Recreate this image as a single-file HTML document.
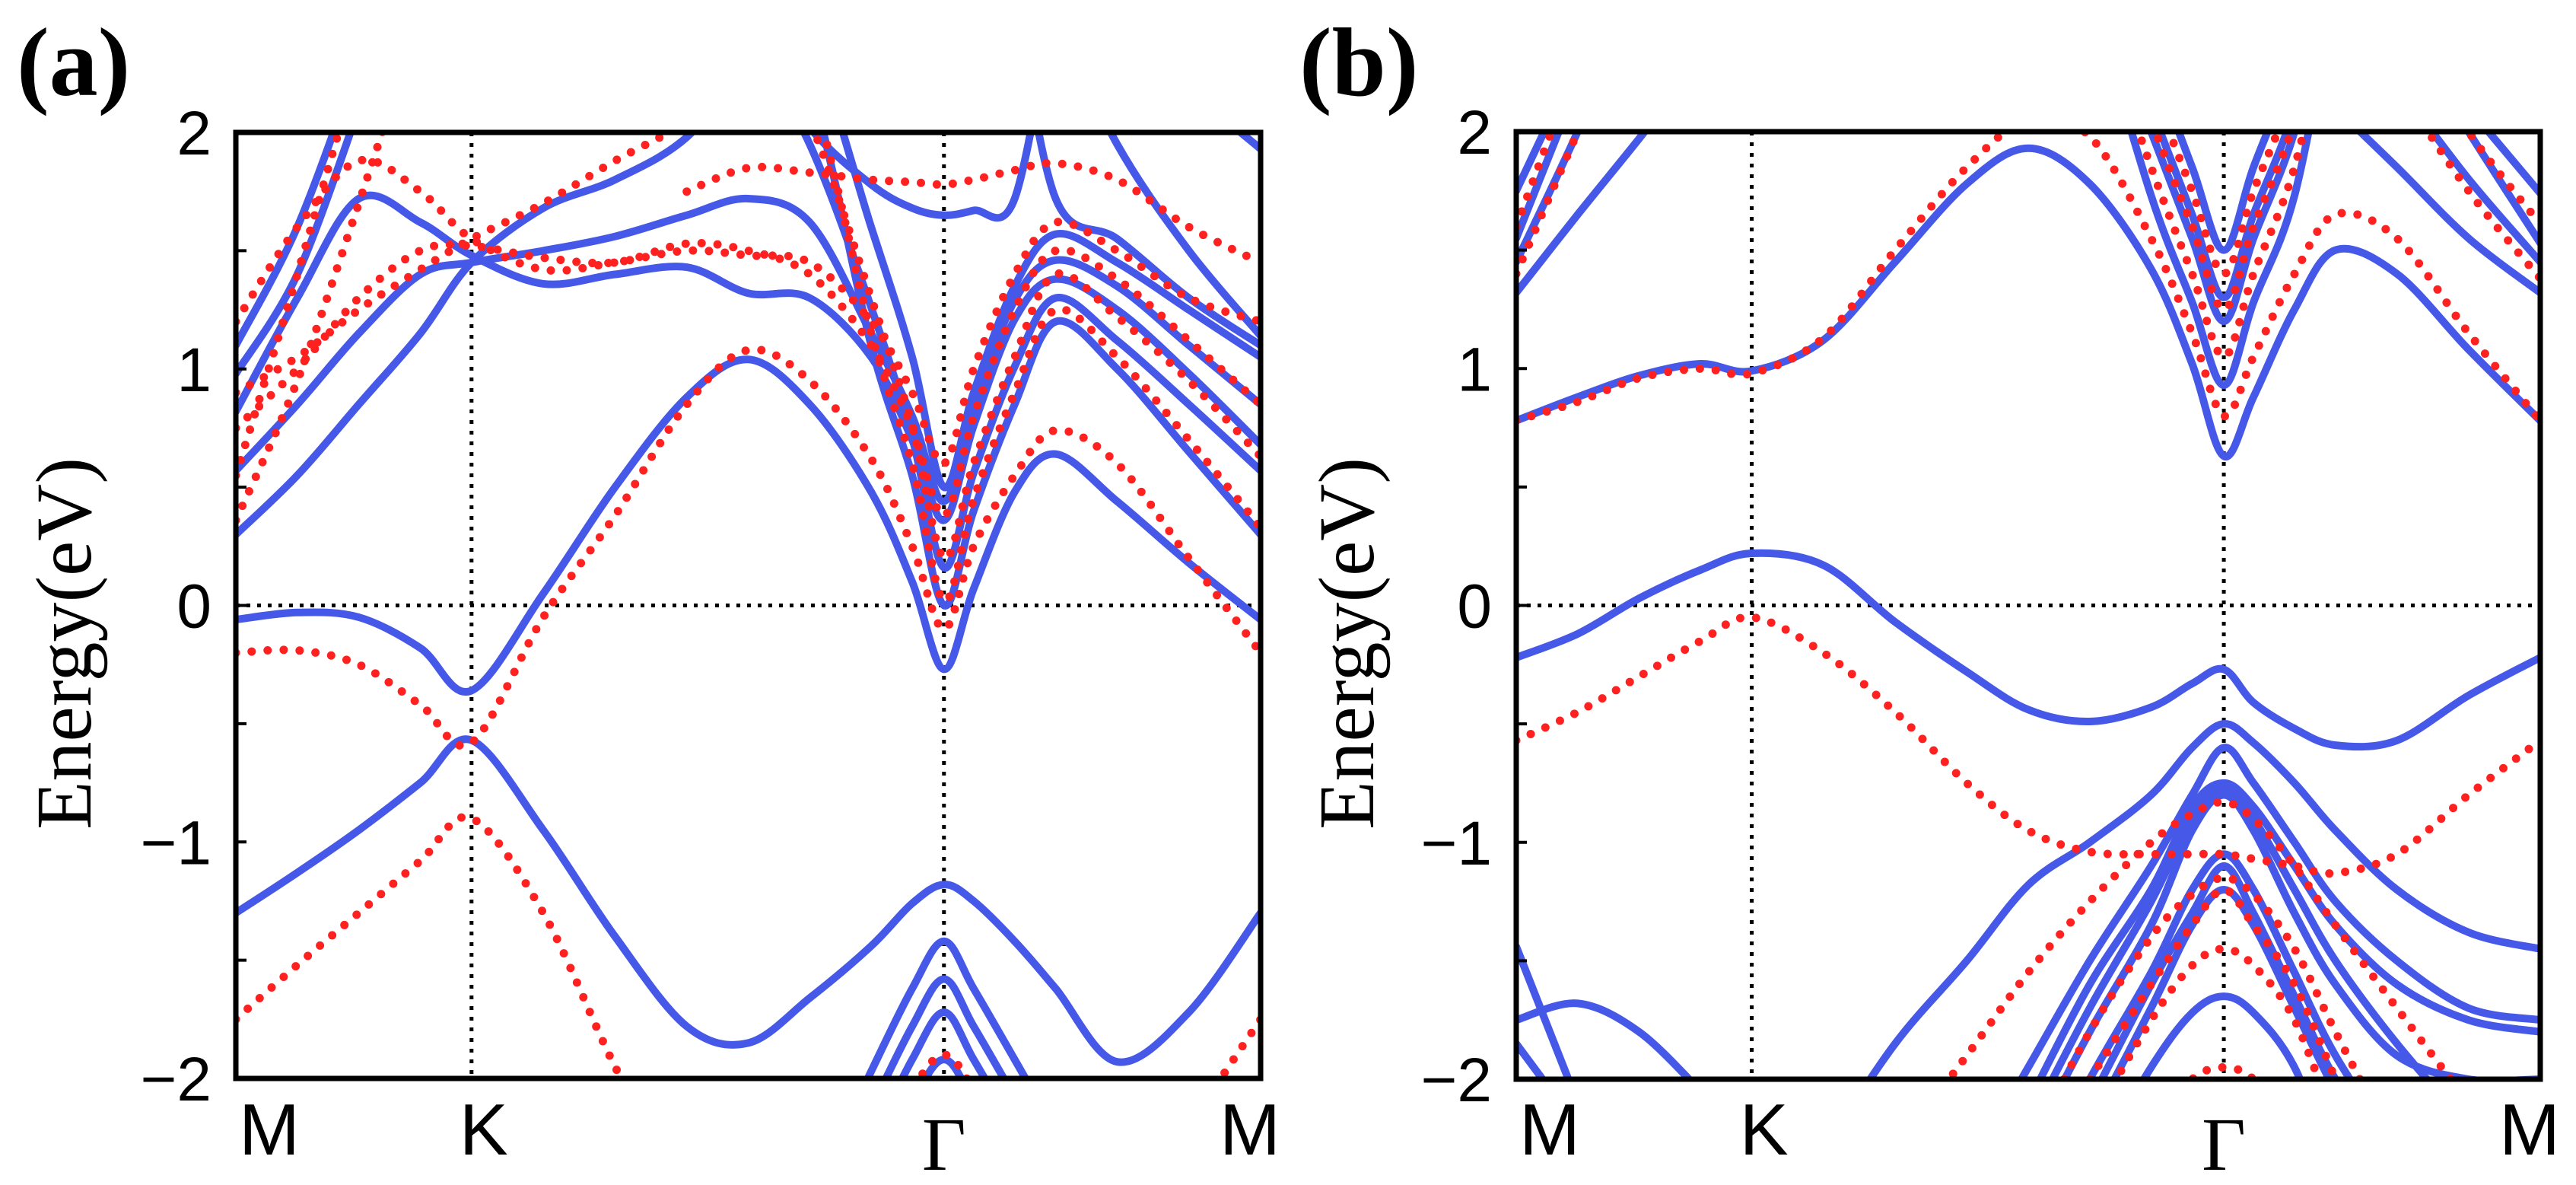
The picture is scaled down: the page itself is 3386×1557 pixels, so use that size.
<!DOCTYPE html>
<html><head><meta charset="utf-8"><title>Band structures</title>
<style>
html,body{margin:0;padding:0;background:#fff;}
svg{display:block;}
text{font-family:"Liberation Sans",sans-serif;}
.serif{font-family:"Liberation Serif",serif;}
</style></head>
<body>
<svg id="fig" width="3386" height="1557" viewBox="0 0 3386 1557" xmlns="http://www.w3.org/2000/svg">
<rect x="0" y="0" width="3386" height="1557" fill="#fff"/>
<defs>
<clipPath id="clipA"><rect x="310" y="174" width="1347" height="1243"/></clipPath>
<clipPath id="clipB"><rect x="1993" y="173" width="1346" height="1245"/></clipPath>
</defs>
<g id="panelA"></g>
<g id="panelB"></g>
</svg>
<script>
// shared k-path grid (M=0, K=0.23, Gamma=0.691, M=1)
const kGrid=[0,0.06,0.12,0.18,0.23,0.3,0.37,0.44,0.5,0.56,0.62,0.66,0.691,0.72,0.76,0.8,0.86,0.93,1];
const kLabels=["M","K","Γ","M"];
const kLabelPos=[0,0.23,0.691,1];
const yTicks=[2,1,0,-1,-2];
const yTickLabels=["2","1","0","\u22121","\u22122"];
const n=null;
// Panel (a) blue bands
const aB1=[-1.3,-1.13,-0.95,-0.75,-0.57,-0.95,-1.4,-1.78,-1.85,-1.66,-1.44,-1.26,-1.18,-1.25,-1.42,-1.62,-1.93,-1.72,-1.3];
const aB2=[-0.06,-0.03,-0.05,-0.18,-0.36,0.05,0.5,0.88,1.04,0.85,0.48,0.1,-0.27,0.07,0.48,0.64,0.44,0.18,-0.06];
const aB3=[0.3,0.55,0.85,1.15,1.45,1.68,1.8,1.98,2.3,n,n,n,n,n,n,n,n,n,n];
const aB4=[0.57,0.85,1.15,1.4,1.45,1.5,1.56,1.65,1.72,1.62,1.15,0.8,0.44,0.84,1.29,1.46,1.35,1.1,0.85];
const aB5=[0.82,1.3,1.72,1.62,1.48,1.36,1.4,1.43,1.32,1.3,1.05,0.7,0.36,0.76,1.21,1.38,1.25,0.98,0.68];
const aB6=[n,n,n,n,n,n,n,n,2.6,2.2,1.1,0.55,0.0,0.4,0.85,1.2,1.0,0.65,0.3];
const aB7=[n,n,n,n,n,n,n,n,2.4,1.95,1.26,0.71,0.16,0.56,1.01,1.3,1.12,0.85,0.57];
const aB8=[n,n,n,n,n,n,n,n,2.7,2.4,1.6,1.05,0.5,0.9,1.35,1.57,1.45,1.25,1.05];
const aB9=[n,n,n,n,n,n,n,n,2.4,2.02,1.78,1.68,1.65,1.67,1.72,2.6,n,n,n];
const aB10=[n,n,n,n,n,n,n,n,n,n,n,n,n,n,2.6,1.72,1.55,1.3,1.1];
const aB11=[n,n,n,n,n,n,n,n,n,n,n,n,n,n,n,2.5,1.95,1.5,1.14];
const aB12=[n,n,n,n,n,n,n,n,n,n,n,n,n,n,n,n,2.6,2.2,1.93];
const aB13=[1.1,1.6,2.3,n,n,n,n,n,n,n,n,n,n,n,n,n,n,n,n];
const aB14=[0.98,1.4,2.1,n,n,n,n,n,n,n,n,n,n,n,n,n,n,n,n];
const aB15=[n,n,n,n,n,n,n,n,n,-2.52,-1.97,-1.62,-1.42,-1.62,-1.92,-2.22,-2.62,n,n];
const aB16=[n,n,n,n,n,n,n,n,n,-2.68,-2.13,-1.78,-1.58,-1.78,-2.08,-2.38,n,n,n];
const aB17=[n,n,n,n,n,n,n,n,n,n,-2.27,-1.92,-1.72,-1.92,-2.22,n,n,n,n];
const aB18=[n,n,n,n,n,n,n,n,n,n,-2.45,-2.1,-1.92,-2.1,-2.45,n,n,n,n];
// Panel (a) red dotted bands
const aR1=[-1.75,-1.52,-1.3,-1.08,-0.9,-1.3,-1.95,-2.5,n,n,n,n,n,n,n,n,n,-2.2,-1.75];
const aR2=[-0.2,-0.19,-0.25,-0.42,-0.58,-0.05,0.38,0.85,1.08,0.95,0.62,0.25,-0.1,0.25,0.55,0.74,0.6,0.2,-0.2];
const aR3=[n,n,n,n,n,n,n,n,2.6,2.2,1.15,0.6,0.02,0.45,0.9,1.25,1.05,0.7,0.33];
const aR4=[n,n,n,n,n,n,n,n,2.5,2.05,1.3,0.76,0.2,0.6,1.05,1.4,1.22,0.95,0.63];
const aR5=[0.75,1.0,1.3,1.5,1.52,1.47,1.45,1.53,1.5,1.4,1.1,0.75,0.38,0.8,1.25,1.5,1.38,1.12,0.85];
const aR6=[1.2,1.6,1.88,1.75,1.55,1.42,1.45,1.5,1.48,1.45,1.2,0.9,0.6,1.0,1.4,1.62,1.5,1.3,1.2];
const aR7=[0.9,1.05,1.25,1.42,1.55,1.7,1.88,2.05,2.3,n,n,n,n,n,n,n,n,n,n];
const aR8=[n,n,n,n,n,n,n,1.75,1.85,1.83,1.8,1.79,1.78,1.8,1.84,1.87,1.8,1.6,1.45];
const aR9=[0.55,1.4,2.3,n,n,n,n,n,n,n,n,n,n,n,n,n,n,n,n];
const aR10=[0.36,0.95,1.7,2.5,n,n,n,n,n,n,n,n,n,n,n,n,n,n,n];
const aR11=[n,n,n,n,n,n,n,n,n,n,-2.4,-2.05,-1.9,-2.05,-2.4,n,n,n,n];
// Panel (b) blue bands
const bB1=[-0.22,-0.12,0.03,0.15,0.22,0.17,-0.07,-0.28,-0.44,-0.49,-0.43,-0.33,-0.27,-0.41,-0.52,-0.59,-0.57,-0.38,-0.22];
const bB2=[0.78,0.88,0.97,1.02,0.99,1.12,1.45,1.78,1.93,1.78,1.42,1.02,0.63,0.88,1.25,1.5,1.4,1.08,0.78];
const bB3=[n,n,n,n,n,n,n,n,n,2.6,1.73,1.28,0.93,1.28,1.73,2.6,n,n,n];
const bB4=[n,n,n,n,n,n,n,n,n,2.7,2.0,1.55,1.2,1.55,2.0,2.7,n,n,n];
const bB5=[n,n,n,n,n,n,n,n,n,2.8,2.1,1.65,1.3,1.65,2.1,2.8,n,n,n];
const bB6=[n,n,n,n,n,n,n,n,n,2.9,2.3,1.85,1.5,1.85,2.3,2.9,n,n,n];
const bB7=[n,n,n,n,n,n,n,n,n,n,n,n,n,n,n,2.1,1.85,1.55,1.32];
const bB8=[n,n,n,n,n,n,n,n,n,n,n,n,n,n,n,n,2.2,1.8,1.45];
const bB9=[n,n,n,n,n,n,n,n,n,n,n,n,n,n,n,n,2.5,2.0,1.53];
const bB10=[n,n,n,n,n,n,n,n,n,n,n,n,n,n,n,n,n,2.1,1.74];
const bB11=[1.32,1.65,1.97,2.3,n,n,n,n,n,n,n,n,n,n,n,n,n,n,n];
const bB12=[1.45,2.0,2.6,n,n,n,n,n,n,n,n,n,n,n,n,n,n,n,n];
const bB13=[1.55,2.2,n,n,n,n,n,n,n,n,n,n,n,n,n,n,n,n,n];
const bB14=[1.75,2.3,n,n,n,n,n,n,n,n,n,n,n,n,n,n,n,n,n];
const bB15=[n,n,n,n,n,-2.3,-1.85,-1.5,-1.18,-1.0,-0.8,-0.6,-0.5,-0.58,-0.75,-0.95,-1.2,-1.38,-1.45];
const bB16=[n,n,n,n,n,n,n,-2.4,-1.95,-1.5,-1.1,-0.8,-0.6,-0.75,-1.0,-1.25,-1.5,-1.7,-1.75];
const bB17=[n,n,n,n,n,n,n,n,-2.1,-1.6,-1.2,-0.85,-0.75,-0.85,-1.1,-1.35,-1.6,-1.75,-1.8];
const bB18=[n,n,n,n,n,n,n,n,-2.3,-1.8,-1.35,-0.95,-0.8,-0.95,-1.3,-1.6,-1.9,-2.0,-2.0];
const bB19=[n,n,n,n,n,n,n,n,-2.5,-2.0,-1.55,-1.2,-1.05,-1.2,-1.55,-1.9,-2.3,n,n];
const bB20=[n,n,n,n,n,n,n,n,n,-2.2,-1.7,-1.35,-1.2,-1.35,-1.7,-2.05,-2.5,n,n];
const bB21=[n,n,n,n,n,n,n,n,n,-2.4,-1.95,-1.72,-1.65,-1.72,-1.95,-2.4,n,n,n];
const bB22=[-1.44,-2.1,n,n,n,n,n,n,n,n,n,n,n,n,n,n,n,n,n];
const bB23=[-1.75,-1.68,-1.8,-2.05,n,n,n,n,n,n,n,n,n,n,n,n,n,n,n];
const bB24=[-1.85,-2.2,n,n,n,n,n,n,n,n,n,n,n,n,n,n,n,n,n];
const bB25=[n,n,n,n,n,n,n,n,-2.2,-1.7,-1.25,-0.9,-0.77,-0.9,-1.2,-1.5,-1.85,-2.2,n];
const bB26=[n,n,n,n,n,n,n,n,n,-2.1,-1.6,-1.3,-1.1,-1.3,-1.65,-2.0,-2.4,n,n];
// Panel (b) red dotted bands
const bR1=[-0.57,-0.45,-0.3,-0.15,-0.05,-0.2,-0.45,-0.75,-0.95,-1.04,-1.05,-1.05,-1.05,-1.07,-1.1,-1.13,-1.05,-0.8,-0.57];
const bR2=[0.78,0.86,0.96,1.0,0.98,1.13,1.5,1.85,2.05,1.98,1.55,1.15,0.8,1.05,1.4,1.65,1.55,1.15,0.78];
const bR3=[n,n,n,n,n,n,n,n,n,2.6,1.85,1.4,1.05,1.4,1.85,2.6,n,n,n];
const bR4=[n,n,n,n,n,n,n,n,n,2.8,2.05,1.6,1.25,1.6,2.05,2.8,n,n,n];
const bR5=[n,n,n,n,n,n,n,n,n,2.9,2.2,1.75,1.4,1.75,2.2,2.9,n,n,n];
const bR6=[n,n,n,n,n,n,-2.3,-1.9,-1.55,-1.25,-1.0,-0.88,-0.83,-0.9,-1.1,-1.35,-1.7,-2.1,n];
const bR7=[n,n,n,n,n,n,n,n,-2.3,-1.8,-1.4,-1.22,-1.15,-1.22,-1.45,-1.8,-2.3,n,n];
const bR8=[n,n,n,n,n,n,n,n,n,-2.2,-1.75,-1.52,-1.45,-1.52,-1.75,-2.2,n,n,n];
const bR9=[n,n,n,n,n,n,n,n,n,n,-2.2,-2.0,-1.95,-2.0,-2.2,n,n,n,n];
const bR10=[1.4,2.0,2.6,n,n,n,n,n,n,n,n,n,n,n,n,n,n,n,n];
const bR11=[1.6,2.3,n,n,n,n,n,n,n,n,n,n,n,n,n,n,n,n,n];
const bR12=[n,n,n,n,n,n,n,n,n,n,n,n,n,n,n,n,2.2,1.75,1.38];
const bR13=[n,n,n,n,n,n,n,n,n,n,n,n,n,n,n,n,2.5,2.0,1.61];
const bR14=[n,n,n,n,n,n,n,n,n,-2.0,-1.6,-1.35,-1.2,-1.35,-1.6,-2.0,n,n,n];

const panelABlue=[aB1,aB2,aB3,aB4,aB5,aB6,aB7,aB8,aB9,aB10,aB11,aB12,aB13,aB14,aB15,aB16,aB17,aB18];
const panelARed=[aR1,aR2,aR3,aR4,aR5,aR6,aR7,aR8,aR9,aR10,aR11];
const panelBBlue=[bB1,bB2,bB3,bB4,bB5,bB6,bB7,bB8,bB9,bB10,bB11,bB12,bB13,bB14,bB15,bB16,bB17,bB18,bB19,bB20,bB21,bB22,bB23,bB24,bB25,bB26];
const panelBRed=[bR1,bR2,bR3,bR4,bR5,bR6,bR7,bR8,bR9,bR10,bR11,bR12,bR13,bR14];

const NS="http://www.w3.org/2000/svg";
function mk(tag,attrs,parent){const e=document.createElementNS(NS,tag);for(const k in attrs)e.setAttribute(k,attrs[k]);parent.appendChild(e);return e;}

function drawPanel(g,box,clipId,blue,red,letter,lx){
  const xS=k=>box.x0+k*(box.x1-box.x0);
  const yS=E=>box.y0+(2-E)/4*(box.y1-box.y0);
  const lbl=mk('text',{x:lx,y:125,'font-size':'128','font-weight':'bold','class':'serif'},g);
  
  
  lbl.textContent='('+letter+')';
  const yt=mk('text',{x:0,y:0,'font-size':'104','class':'serif','text-anchor':'middle',transform:'translate('+(lx+97)+','+((box.y0+box.y1)/2+50)+') rotate(-90)'},g);
  
  
  yt.textContent='Energy(eV)';
  const plot=mk('g',{'clip-path':'url(#'+clipId+')'},g);
  
  
  [kLabelPos[1],kLabelPos[2]].forEach(k=>{
    const l=mk('line',{x1:xS(k),x2:xS(k),y1:box.y0,y2:box.y1,stroke:'#000','stroke-width':5,'stroke-dasharray':'5 9'},plot);
    
    
  });
  const zl=mk('line',{x1:box.x0,x2:box.x1,y1:yS(0),y2:yS(0),stroke:'#000','stroke-width':5,'stroke-dasharray':'5 9'},plot);
  
  
  function pathFor(arr){
    let d='';let seg=[];
    const flush=()=>{
      if(seg.length<2){seg=[];return;}
      d+='M'+seg[0][0].toFixed(1)+','+seg[0][1].toFixed(1);
      for(let i=0;i<seg.length-1;i++){
        const p0=seg[Math.max(i-1,0)],p1=seg[i],p2=seg[i+1],p3=seg[Math.min(i+2,seg.length-1)];
        const c1=[p1[0]+(p2[0]-p0[0])/6,p1[1]+(p2[1]-p0[1])/6];
        const c2=[p2[0]-(p3[0]-p1[0])/6,p2[1]-(p3[1]-p1[1])/6];
        d+='C'+c1[0].toFixed(1)+','+c1[1].toFixed(1)+' '+c2[0].toFixed(1)+','+c2[1].toFixed(1)+' '+p2[0].toFixed(1)+','+p2[1].toFixed(1);
      }
      seg=[];
    };
    arr.forEach((E,i)=>{if(E===null){flush();}else seg.push([xS(kGrid[i]),yS(E)]);});
    flush();
    return d;
  }
  blue.forEach((arr,i)=>{
    const p=mk('path',{d:pathFor(arr),fill:'none',stroke:'#4558e8','stroke-width':10,'stroke-linejoin':'round','stroke-linecap':'round'},plot);
    
    
  });
  red.forEach((arr,i)=>{
    const p=mk('path',{d:pathFor(arr),fill:'none',stroke:'#ff2020','stroke-width':11,'stroke-linecap':'round','stroke-dasharray':'0 21'},plot);
    
    
  });
  const fr=mk('rect',{x:box.x0,y:box.y0,width:box.x1-box.x0,height:box.y1-box.y0,fill:'none',stroke:'#000','stroke-width':7},g);
  
  
  for(let v=-1.5;v<=1.5;v+=0.5){
    const t=mk('line',{x1:box.x0,x2:box.x0+14,y1:yS(v),y2:yS(v),stroke:'#000','stroke-width':4},g);
    
    
  }
  yTicks.forEach((v,i)=>{
    const t=mk('text',{x:box.x0-32,y:yS(v)+29,'font-size':'82','text-anchor':'end'},g);
    
    
    t.textContent=yTickLabels[i];
  });
  kLabels.forEach((s,i)=>{
    let x=xS(kLabelPos[i]);
    if(i===0)x+=44; if(i===3)x-=14; if(i===1)x+=16;
    const isG=(s==='Γ');
    const t=mk('text',{x:x,y:isG?1537:1517,'font-size':isG?'100':'96','text-anchor':'middle'},g);
    if(isG)t.setAttribute('class','serif');
    
    
    t.textContent=s;
  });
}
drawPanel(document.getElementById('panelA'),{x0:310,x1:1657,y0:174,y1:1417},'clipA',panelABlue,panelARed,'a',22);
drawPanel(document.getElementById('panelB'),{x0:1993,x1:3339,y0:173,y1:1418},'clipB',panelBBlue,panelBRed,'b',1708);
</script>
</body></html>
